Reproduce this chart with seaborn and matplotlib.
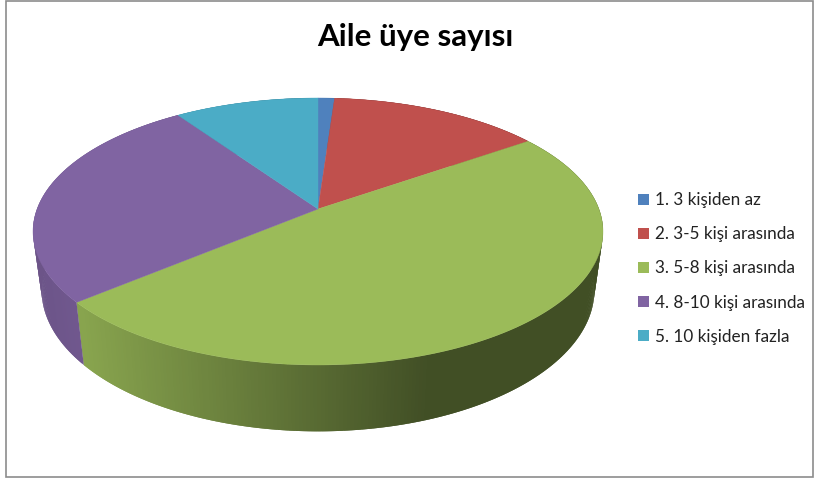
import matplotlib
matplotlib.use("Agg")
import matplotlib.pyplot as plt
from matplotlib.patches import Patch, Rectangle
import numpy as np
import seaborn as sns

title = "Aile üye sayısı"
categories = [
    "1. 3 kişiden az",
    "2. 3-5 kişi arasında",
    "3. 5-8 kişi arasında",
    "4. 8-10 kişi arasında",
    "5. 10 kişiden fazla",
]
values = [1.1, 14.2, 48.6, 26.5, 9.6]
colors = ["#4F81BD", "#C0504D", "#9BBB59", "#8064A2", "#4BACC6"]

# fake 3d pie: circle goes through a small perspective projection
CX, CY = 318, 209
K = 0.1685
A = 129.7
B = 280.9
WALL_DY = 57
WALL_SX = 0.97
WALL_SY = 1.06


def project(theta, bottom=False):
    u, v = np.sin(theta), np.cos(theta)
    x = B * u / (1 + K * v)
    y = A * v / (1 + K * v)
    if bottom:
        return CX + WALL_SX * x, CY + WALL_DY - WALL_SY * y
    return CX + x, CY - y


def shade(color, x):
    f = np.interp(x, [33, 80, 430], [0.84, 0.88, 0.42])
    return tuple(c * f for c in matplotlib.colors.to_rgb(color))


sns.set_theme(style="white")
plt.rcParams["font.family"] = ["Lato", "DejaVu Sans"]
palette = sns.color_palette(colors)

fig = plt.figure(figsize=(8.14, 4.8), dpi=100)
ax = fig.add_axes([0, 0, 1, 1])
ax.set_xlim(0, 814)
ax.set_ylim(480, 0)
ax.axis("off")

fractions = np.cumsum([0] + values) / sum(values)
angles = fractions * 2 * np.pi

# side wall first, top face covers whatever is behind it
# strips overlap the next one so no seams show through
zo = 2
for i, col in enumerate(palette):
    th = np.linspace(angles[i], angles[i + 1], max(int((angles[i + 1] - angles[i]) * 90), 3))
    for j in range(len(th) - 1):
        t0, t1 = th[j], th[min(j + 2, len(th) - 1)]
        seg = np.linspace(t0, t1, 4)
        xt, yt = project(seg)
        xb, yb = project(seg[::-1], bottom=True)
        c = shade(col, (project(th[j])[0] + project(th[j + 1])[0]) / 2)
        ax.fill(np.r_[xt, xb], np.r_[yt, yb], color=c, lw=0, zorder=zo)
        zo += 0.001

for i, col in enumerate(palette):
    th = np.linspace(angles[i], angles[i + 1], 200)
    xs, ys = project(th)
    ax.fill(np.r_[CX, xs], np.r_[CY, ys], color=col, lw=0.3, zorder=10)

fig.add_artist(Rectangle((5.5 / 814, 1 - 477 / 480), 807.5 / 814, 476 / 480,
                         fill=False, edgecolor="#8c8c8c", lw=1.2,
                         transform=fig.transFigure))

ax.text(415, 37, title, ha="center", va="center", fontsize=22.5, fontweight="bold", color="black")

handles = [Patch(facecolor=c, edgecolor="none", label=l) for c, l in zip(palette, categories)]
ax.legend(
    handles=handles,
    loc="center left",
    bbox_to_anchor=(638 / 814, 1 - 268.5 / 480),
    bbox_transform=fig.transFigure,
    frameon=False,
    fontsize=12.3,
    labelcolor="#222222",
    handlelength=0.62,
    handleheight=0.62,
    handletextpad=0.35,
    labelspacing=1.06,
    borderpad=0,
    borderaxespad=0,
)

fig.savefig("out.png", dpi=100)
plt.close(fig)
